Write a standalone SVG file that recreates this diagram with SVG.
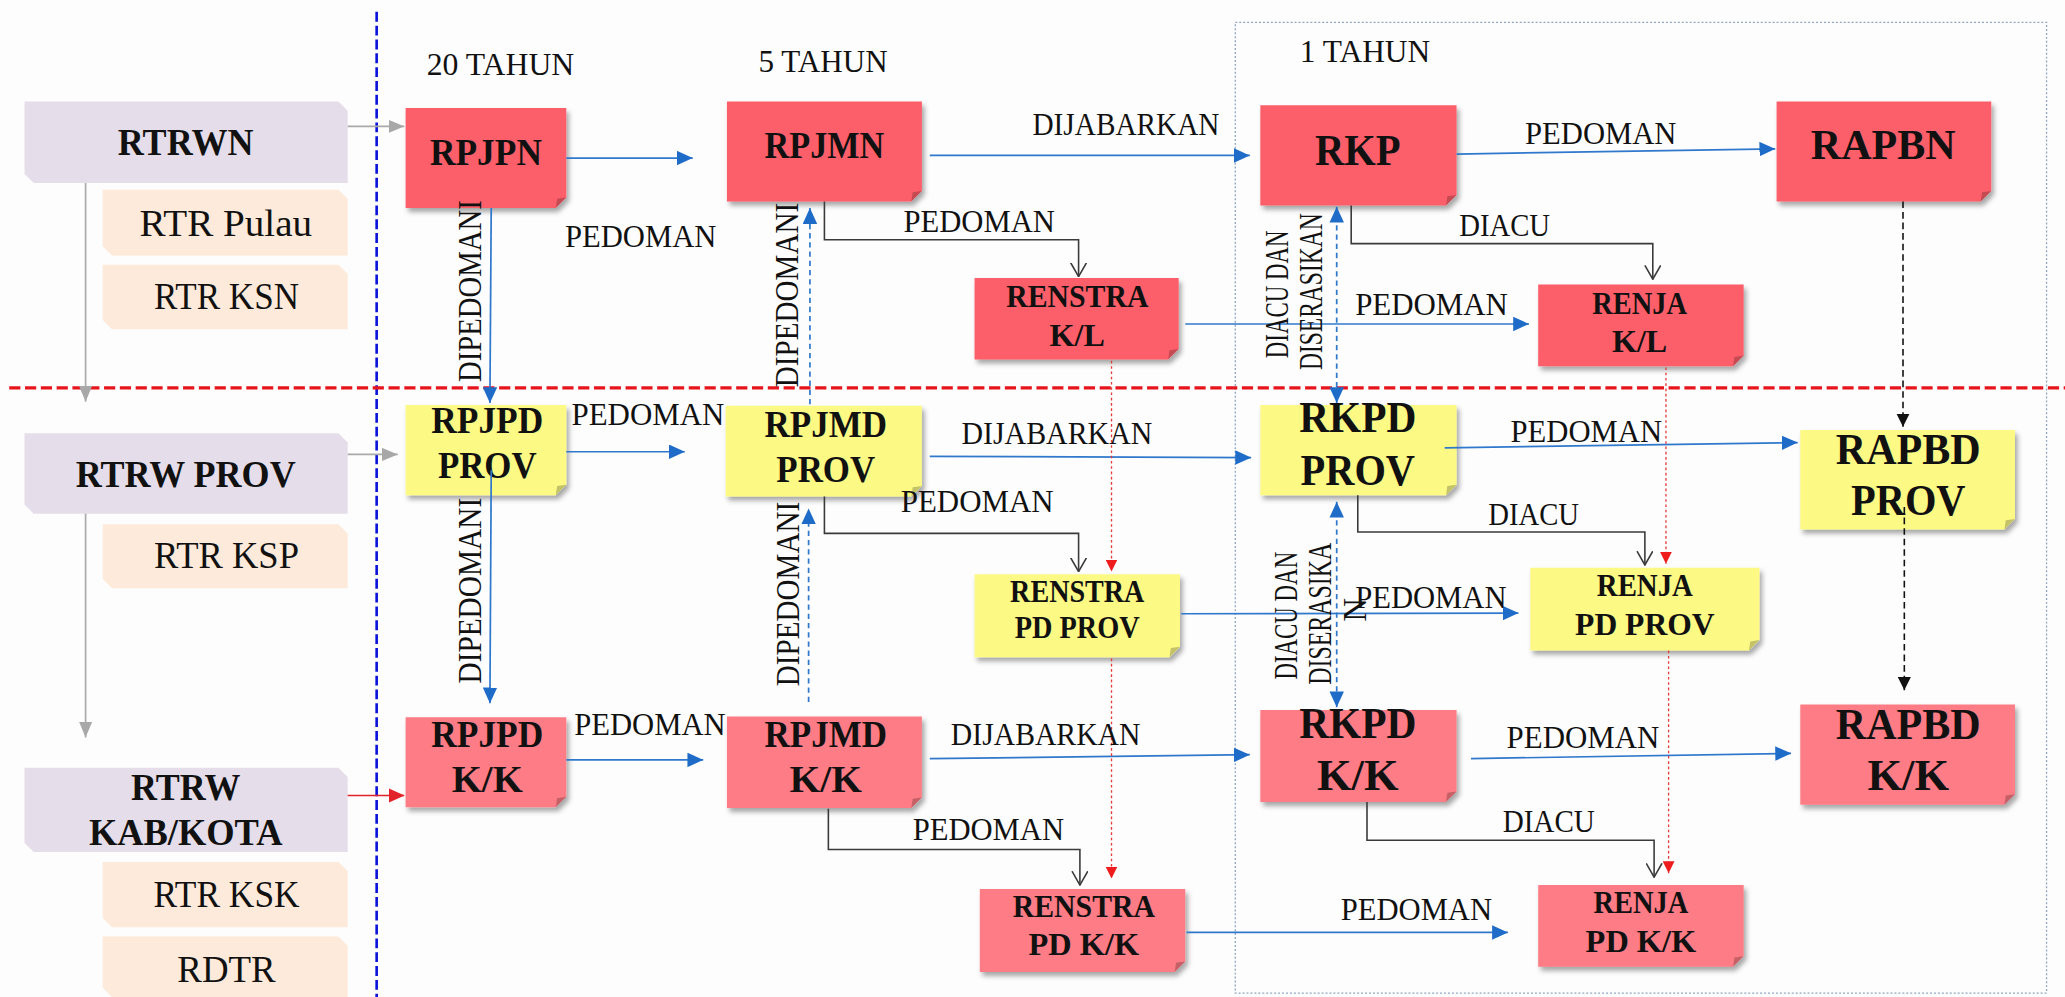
<svg xmlns="http://www.w3.org/2000/svg" width="2065" height="997" viewBox="0 0 2065 997">
<defs>
<style>
.n1{fill:#fd5e6a}
.n2{fill:#fcf985}
.n3{fill:#fd7c85}
.fold{fill:#000;opacity:0.22}
.lv{fill:#e5dde9}
.pc{fill:#fdeada}
.nt{font-family:"Liberation Serif",serif;font-weight:bold;text-anchor:middle;fill:#111}
.lt{font-family:"Liberation Serif",serif;font-size:28px;text-anchor:middle;fill:#111}
.lb{font-family:"Liberation Serif",serif;font-size:23.5px;fill:#111}
.rt{font-family:"Liberation Serif",serif;font-size:25px;fill:#111}
.cb{stroke:#2f78cc;stroke-width:1.3;fill:none}
.cbd{stroke:#2f78cc;stroke-width:1.3;stroke-dasharray:4 3;fill:none}
.ck{stroke:#3a3a3a;stroke-width:1.2;fill:none}
.ckd{stroke:#111;stroke-width:1.2;stroke-dasharray:5 3;fill:none}
.cr{stroke:#e43a3a;stroke-width:1;stroke-dasharray:2 2;fill:none}
.cg{stroke:#aaaaaa;stroke-width:1.3;fill:none}
.crs{stroke:#e3232a;stroke-width:1.3;fill:none}
</style>
<filter id="sh" x="-10%" y="-10%" width="130%" height="140%">
<feDropShadow dx="2" dy="3" stdDeviation="2" flood-color="#000" flood-opacity="0.35"/>
</filter>
<marker id="ab" markerUnits="userSpaceOnUse" viewBox="0 0 12 11" markerWidth="12" markerHeight="11" refX="12" refY="5.5" orient="auto-start-reverse"><path d="M0,0 L12,5.5 L0,11 Z" fill="#1f6cc8"/></marker>
<marker id="ag" markerUnits="userSpaceOnUse" viewBox="0 0 12 10" markerWidth="12" markerHeight="10" refX="12" refY="5" orient="auto"><path d="M0,0 L12,5 L0,10 Z" fill="#a8a8a8"/></marker>
<marker id="ar" markerUnits="userSpaceOnUse" viewBox="0 0 9 9" markerWidth="9" markerHeight="9" refX="9" refY="4.5" orient="auto"><path d="M0,0 L9,4.5 L0,9 Z" fill="#ee1c1c"/></marker>
<marker id="ars" markerUnits="userSpaceOnUse" viewBox="0 0 12 11" markerWidth="12" markerHeight="11" refX="12" refY="5.5" orient="auto"><path d="M0,0 L12,5.5 L0,11 Z" fill="#e3232a"/></marker>
<marker id="ak" markerUnits="userSpaceOnUse" viewBox="0 0 10 10" markerWidth="10" markerHeight="10" refX="10" refY="5" orient="auto"><path d="M0,0 L10,5 L0,10 Z" fill="#111"/></marker>
<marker id="ao" markerUnits="userSpaceOnUse" viewBox="0 0 11 13" markerWidth="11" markerHeight="13" refX="10.5" refY="6.5" orient="auto"><path d="M0,0.5 L10.5,6.5 L0,12.5" fill="none" stroke="#3a3a3a" stroke-width="1.2"/></marker>
</defs>
<rect x="0" y="0" width="2065" height="997" fill="#fdfdfd"/>
<g transform="scale(1.31696 1.31704)">

<g id="frame">
<rect x="938" y="17" width="616" height="737" fill="none" stroke="#8fa6c3" stroke-width="1" stroke-dasharray="1.5 1.5"/>
<line x1="286" y1="9" x2="286" y2="757" stroke="#0a14d8" stroke-width="2" stroke-dasharray="7.5 3"/>
<line x1="7" y1="294.5" x2="1568" y2="294.5" stroke="#e8141c" stroke-width="2.5" stroke-dasharray="8.5 3.5"/>
<text class="lb" x="324" y="57" font-size="25" textLength="112" lengthAdjust="spacingAndGlyphs">20 TAHUN</text>
<text class="lb" x="576" y="54.6" font-size="25" textLength="98" lengthAdjust="spacingAndGlyphs">5 TAHUN</text>
<text class="lb" x="987" y="47" font-size="25" textLength="99" lengthAdjust="spacingAndGlyphs">1 TAHUN</text>
</g>

<g id="rtrwn"><path class="lv" d="M18.6,77 H257 L264,84 V139 H25.6 L18.6,132 Z"/><text class="nt" x="141" y="118" font-size="29" textLength="103" lengthAdjust="spacingAndGlyphs">RTRWN</text></g>
<g id="rtr-pulau"><path class="pc" d="M78,144 H257 L264,151 V194 H85 L78,187 Z"/><text class="lt" x="171.5" y="179" textLength="131" lengthAdjust="spacingAndGlyphs">RTR Pulau</text></g>
<g id="rtr-ksn"><path class="pc" d="M78,201 H257 L264,208 V250 H85 L78,243 Z"/><text class="lt" x="172" y="235" textLength="110" lengthAdjust="spacingAndGlyphs">RTR KSN</text></g>
<g id="rtrw-prov"><path class="lv" d="M18.6,329 H257 L264,336 V390 H25.6 L18.6,383 Z"/><text class="nt" x="141" y="370" font-size="29" textLength="167" lengthAdjust="spacingAndGlyphs">RTRW PROV</text></g>
<g id="rtr-ksp"><path class="pc" d="M78,398 H257 L264,405 V446.6 H85 L78,439.6 Z"/><text class="lt" x="172" y="431" textLength="110" lengthAdjust="spacingAndGlyphs">RTR KSP</text></g>
<g id="rtrw-kab"><path class="lv" d="M18.6,583 H257 L264,590 V647 H25.6 L18.6,640 Z"/><text class="nt" x="141" y="607.5" font-size="29" textLength="83" lengthAdjust="spacingAndGlyphs">RTRW</text><text class="nt" x="141" y="641.6" font-size="29" textLength="147" lengthAdjust="spacingAndGlyphs">KAB/KOTA</text></g>
<g id="rtr-ksk"><path class="pc" d="M78,654.5 H257 L264,661.5 V704 H85 L78,697 Z"/><text class="lt" x="172" y="688.6" textLength="111" lengthAdjust="spacingAndGlyphs">RTR KSK</text></g>
<g id="rdtr"><path class="pc" d="M78,711 H257 L264,718 V757 H85 L78,750 Z"/><text class="lt" x="172" y="745.6">RDTR</text></g>

<g id="rpjpn"><path class="n1" filter="url(#sh)" d="M308,82 H430 V150 L422,158 H308 Z"/><path class="fold" d="M430,150 L422,158 L423,151 Z"/><text class="nt" x="369" y="125" font-size="29" textLength="85" lengthAdjust="spacingAndGlyphs">RPJPN</text></g>
<g id="rpjmn"><path class="n1" filter="url(#sh)" d="M552,77 H700 V145 L692,153 H552 Z"/><path class="fold" d="M700,145 L692,153 L693,146 Z"/><text class="nt" x="626" y="120" font-size="29" textLength="91" lengthAdjust="spacingAndGlyphs">RPJMN</text></g>
<g id="rkp"><path class="n1" filter="url(#sh)" d="M957,80 H1106 V148 L1098,156 H957 Z"/><path class="fold" d="M1106,148 L1098,156 L1099,149 Z"/><text class="nt" x="1031" y="125" font-size="33" textLength="65" lengthAdjust="spacingAndGlyphs">RKP</text></g>
<g id="rapbn"><path class="n1" filter="url(#sh)" d="M1349,77 H1512 V145 L1504,153 H1349 Z"/><path class="fold" d="M1512,145 L1504,153 L1505,146 Z"/><text class="nt" x="1430" y="121" font-size="32" textLength="110" lengthAdjust="spacingAndGlyphs">RAPBN</text></g>
<g id="renstra-kl"><path class="n1" filter="url(#sh)" d="M740,211 H895 V265 L887,273 H740 Z"/><path class="fold" d="M895,265 L887,273 L888,266 Z"/><text class="nt" x="818" y="233" font-size="24" textLength="108" lengthAdjust="spacingAndGlyphs">RENSTRA</text><text class="nt" x="818" y="263" font-size="24" textLength="42" lengthAdjust="spacingAndGlyphs">K/L</text></g>
<g id="renja-kl"><path class="n1" filter="url(#sh)" d="M1168,216 H1324 V270 L1316,278 H1168 Z"/><path class="fold" d="M1324,270 L1316,278 L1317,271 Z"/><text class="nt" x="1245" y="238.7" font-size="24" textLength="72" lengthAdjust="spacingAndGlyphs">RENJA</text><text class="nt" x="1245" y="267.6" font-size="24" textLength="42" lengthAdjust="spacingAndGlyphs">K/L</text></g>

<g id="rpjpd-prov"><path class="n2" filter="url(#sh)" d="M308,307.5 H430 V368 L422,376 H308 Z"/><path class="fold" d="M430,368 L422,376 L423,369 Z"/><text class="nt" x="370" y="329" font-size="29" textLength="85" lengthAdjust="spacingAndGlyphs">RPJPD</text><text class="nt" x="370" y="363" font-size="29" textLength="75" lengthAdjust="spacingAndGlyphs">PROV</text></g>
<g id="rpjmd-prov"><path class="n2" filter="url(#sh)" d="M551,308 H700 V369 L692,377 H551 Z"/><path class="fold" d="M700,369 L692,377 L693,370 Z"/><text class="nt" x="627" y="331.6" font-size="29" textLength="93" lengthAdjust="spacingAndGlyphs">RPJMD</text><text class="nt" x="627" y="366" font-size="29" textLength="75" lengthAdjust="spacingAndGlyphs">PROV</text></g>
<g id="rkpd-prov"><path class="n2" filter="url(#sh)" d="M957,307.5 H1106 V368 L1098,376 H957 Z"/><path class="fold" d="M1106,368 L1098,376 L1099,369 Z"/><text class="nt" x="1031" y="328" font-size="33" textLength="89" lengthAdjust="spacingAndGlyphs">RKPD</text><text class="nt" x="1031" y="368" font-size="33" textLength="87" lengthAdjust="spacingAndGlyphs">PROV</text></g>
<g id="rapbd-prov"><path class="n2" filter="url(#sh)" d="M1367,326.5 H1530 V394 L1522,402 H1367 Z"/><path class="fold" d="M1530,394 L1522,402 L1523,395 Z"/><text class="nt" x="1449" y="352" font-size="33" textLength="110" lengthAdjust="spacingAndGlyphs">RAPBD</text><text class="nt" x="1449" y="391" font-size="33" textLength="87" lengthAdjust="spacingAndGlyphs">PROV</text></g>
<g id="renstra-pd-prov"><path class="n2" filter="url(#sh)" d="M740,436 H896 V491 L888,499 H740 Z"/><path class="fold" d="M896,491 L888,499 L889,492 Z"/><text class="nt" x="818" y="457" font-size="24" textLength="102" lengthAdjust="spacingAndGlyphs">RENSTRA</text><text class="nt" x="818" y="484.7" font-size="24" textLength="95" lengthAdjust="spacingAndGlyphs">PD PROV</text></g>
<g id="renja-pd-prov"><path class="n2" filter="url(#sh)" d="M1162,431 H1336 V486 L1328,494 H1162 Z"/><path class="fold" d="M1336,486 L1328,494 L1329,487 Z"/><text class="nt" x="1249" y="452.6" font-size="24" textLength="73" lengthAdjust="spacingAndGlyphs">RENJA</text><text class="nt" x="1249" y="482" font-size="24" textLength="106" lengthAdjust="spacingAndGlyphs">PD PROV</text></g>

<g id="rpjpd-kk"><path class="n3" filter="url(#sh)" d="M308,544.5 H430 V605 L422,613 H308 Z"/><path class="fold" d="M430,605 L422,613 L423,606 Z"/><text class="nt" x="370" y="567" font-size="29" textLength="85" lengthAdjust="spacingAndGlyphs">RPJPD</text><text class="nt" x="370" y="601" font-size="29" textLength="54" lengthAdjust="spacingAndGlyphs">K/K</text></g>
<g id="rpjmd-kk"><path class="n3" filter="url(#sh)" d="M552,544 H700 V605.5 L692,613.5 H552 Z"/><path class="fold" d="M700,605.5 L692,613.5 L693,606.5 Z"/><text class="nt" x="627" y="567" font-size="29" textLength="93" lengthAdjust="spacingAndGlyphs">RPJMD</text><text class="nt" x="627" y="601" font-size="29" textLength="55" lengthAdjust="spacingAndGlyphs">K/K</text></g>
<g id="rkpd-kk"><path class="n3" filter="url(#sh)" d="M957,539 H1106 V601 L1098,609 H957 Z"/><path class="fold" d="M1106,601 L1098,609 L1099,602 Z"/><text class="nt" x="1031" y="560" font-size="33" textLength="89" lengthAdjust="spacingAndGlyphs">RKPD</text><text class="nt" x="1031" y="600" font-size="33" textLength="62" lengthAdjust="spacingAndGlyphs">K/K</text></g>
<g id="rapbd-kk"><path class="n3" filter="url(#sh)" d="M1367,535 H1530 V603 L1522,611 H1367 Z"/><path class="fold" d="M1530,603 L1522,611 L1523,604 Z"/><text class="nt" x="1449" y="561" font-size="33" textLength="110" lengthAdjust="spacingAndGlyphs">RAPBD</text><text class="nt" x="1449" y="600" font-size="33" textLength="62" lengthAdjust="spacingAndGlyphs">K/K</text></g>
<g id="renstra-pd-kk"><path class="n3" filter="url(#sh)" d="M744,675 H900 V730 L892,738 H744 Z"/><path class="fold" d="M900,730 L892,738 L893,731 Z"/><text class="nt" x="823" y="696" font-size="24" textLength="108" lengthAdjust="spacingAndGlyphs">RENSTRA</text><text class="nt" x="823" y="725" font-size="24" textLength="84" lengthAdjust="spacingAndGlyphs">PD K/K</text></g>
<g id="renja-pd-kk"><path class="n3" filter="url(#sh)" d="M1168,672 H1324 V726 L1316,734 H1168 Z"/><path class="fold" d="M1324,726 L1316,734 L1317,727 Z"/><text class="nt" x="1246" y="693" font-size="24" textLength="72" lengthAdjust="spacingAndGlyphs">RENJA</text><text class="nt" x="1246" y="723" font-size="24" textLength="84" lengthAdjust="spacingAndGlyphs">PD K/K</text></g>

<g id="connectors">
<path class="cg" marker-end="url(#ag)" d="M264,96 H307"/>
<path class="cg" marker-end="url(#ag)" d="M264,345 H302"/>
<path class="cg" marker-end="url(#ag)" d="M65,139 V305"/>
<path class="cg" marker-end="url(#ag)" d="M65,390 V560"/>
<path class="crs" marker-end="url(#ars)" d="M264,604 H307"/>

<path class="cb" marker-end="url(#ab)" d="M430,120 H526"/>
<path class="cb" marker-end="url(#ab)" d="M706,118 H949"/>
<path class="cb" marker-end="url(#ab)" d="M1106,117 L1348,113"/>
<path class="cb" marker-end="url(#ab)" d="M900,246 H1161"/>
<path class="cb" marker-end="url(#ab)" d="M373,158 L372,306"/>
<path class="cb" marker-end="url(#ab)" d="M430,343 H520"/>
<path class="cb" marker-end="url(#ab)" d="M706,346.5 L950,347.5"/>
<path class="cb" marker-end="url(#ab)" d="M1097,340 L1365,336"/>
<path class="cb" marker-end="url(#ab)" d="M897,466 L1153,465.5"/>
<path class="cb" marker-end="url(#ab)" d="M373,357 L372,534"/>
<path class="cb" marker-end="url(#ab)" d="M430,577 H534"/>
<path class="cb" marker-end="url(#ab)" d="M706,576 L949,573"/>
<path class="cb" marker-end="url(#ab)" d="M1117,576 L1360,572"/>
<path class="cb" marker-end="url(#ab)" d="M901,708 H1145"/>

<path class="cbd" marker-end="url(#ab)" d="M615,307 V158"/>
<path class="cbd" marker-end="url(#ab)" d="M614,533 V386"/>
<path class="cbd" marker-start="url(#ab)" marker-end="url(#ab)" d="M1015,157 V306"/>
<path class="cbd" marker-start="url(#ab)" marker-end="url(#ab)" d="M1015,381 V537"/>

<path class="ckd" marker-end="url(#ak)" d="M1445,153 V324"/>
<path class="ckd" marker-end="url(#ak)" d="M1446,385 V524"/>

<path class="cr" marker-end="url(#ar)" d="M844,274 V434"/>
<path class="cr" marker-end="url(#ar)" d="M844,500 V667"/>
<path class="cr" marker-end="url(#ar)" d="M1265,279 V428"/>
<path class="cr" marker-end="url(#ar)" d="M1267,494 V663"/>

<path class="ck" marker-end="url(#ao)" d="M626,153 V182 H819 V210"/>
<path class="ck" marker-end="url(#ao)" d="M1026,156 V185 H1255 V212"/>
<path class="ck" marker-end="url(#ao)" d="M626,377 V405 H819 V434"/>
<path class="ck" marker-end="url(#ao)" d="M1031,376 V404 H1249 V429"/>
<path class="ck" marker-end="url(#ao)" d="M629,614 V645 H820 V672"/>
<path class="ck" marker-end="url(#ao)" d="M1038,609 V638 H1256 V666"/>

<text class="lb" x="429" y="187.5" textLength="115" lengthAdjust="spacingAndGlyphs">PEDOMAN</text>
<text class="lb" x="784" y="102.5" textLength="142" lengthAdjust="spacingAndGlyphs">DIJABARKAN</text>
<text class="lb" x="1158" y="109" textLength="115" lengthAdjust="spacingAndGlyphs">PEDOMAN</text>
<text class="lb" x="686" y="176" textLength="115" lengthAdjust="spacingAndGlyphs">PEDOMAN</text>
<text class="lb" x="1108" y="179" textLength="69" lengthAdjust="spacingAndGlyphs">DIACU</text>
<text class="lb" x="1029" y="239" textLength="116" lengthAdjust="spacingAndGlyphs">PEDOMAN</text>
<text class="lb" x="434" y="323" textLength="116" lengthAdjust="spacingAndGlyphs">PEDOMAN</text>
<text class="lb" x="730" y="337" textLength="145" lengthAdjust="spacingAndGlyphs">DIJABARKAN</text>
<text class="lb" x="1147" y="335.6" textLength="115" lengthAdjust="spacingAndGlyphs">PEDOMAN</text>
<text class="lb" x="684" y="389" textLength="116" lengthAdjust="spacingAndGlyphs">PEDOMAN</text>
<text class="lb" x="1130" y="399" textLength="69" lengthAdjust="spacingAndGlyphs">DIACU</text>
<text class="lb" x="1029" y="462" textLength="115" lengthAdjust="spacingAndGlyphs">PEDOMAN</text>
<text class="lb" x="436" y="558" textLength="115" lengthAdjust="spacingAndGlyphs">PEDOMAN</text>
<text class="lb" x="722" y="566" textLength="144" lengthAdjust="spacingAndGlyphs">DIJABARKAN</text>
<text class="lb" x="1144" y="568" textLength="116" lengthAdjust="spacingAndGlyphs">PEDOMAN</text>
<text class="lb" x="693" y="638" textLength="115" lengthAdjust="spacingAndGlyphs">PEDOMAN</text>
<text class="lb" x="1141" y="631.7" textLength="70" lengthAdjust="spacingAndGlyphs">DIACU</text>
<text class="lb" x="1018" y="698.6" textLength="115" lengthAdjust="spacingAndGlyphs">PEDOMAN</text>

<text class="rt" transform="translate(365,290) rotate(-90)" textLength="138" lengthAdjust="spacingAndGlyphs">DIPEDOMANI</text>
<text class="rt" transform="translate(606,294) rotate(-90)" textLength="140" lengthAdjust="spacingAndGlyphs">DIPEDOMANI</text>
<text class="rt" transform="translate(365,519) rotate(-90)" textLength="141" lengthAdjust="spacingAndGlyphs">DIPEDOMANI</text>
<text class="rt" transform="translate(607,521) rotate(-90)" textLength="140" lengthAdjust="spacingAndGlyphs">DIPEDOMANI</text>
<text class="rt" font-size="22" transform="translate(978,272) rotate(-90)" textLength="97" lengthAdjust="spacingAndGlyphs">DIACU DAN</text>
<text class="rt" font-size="22" transform="translate(1004,281) rotate(-90)" textLength="119" lengthAdjust="spacingAndGlyphs">DISERASIKAN</text>
<text class="rt" font-size="22" transform="translate(985,516) rotate(-90)" textLength="97" lengthAdjust="spacingAndGlyphs">DIACU DAN</text>
<text class="rt" font-size="22" transform="translate(1011,520) rotate(-90)" textLength="108" lengthAdjust="spacingAndGlyphs">DISERASIKA</text>
<text class="rt" font-size="22" transform="translate(1037,472) rotate(-90)">N</text>
</g>
</g>
</svg>
